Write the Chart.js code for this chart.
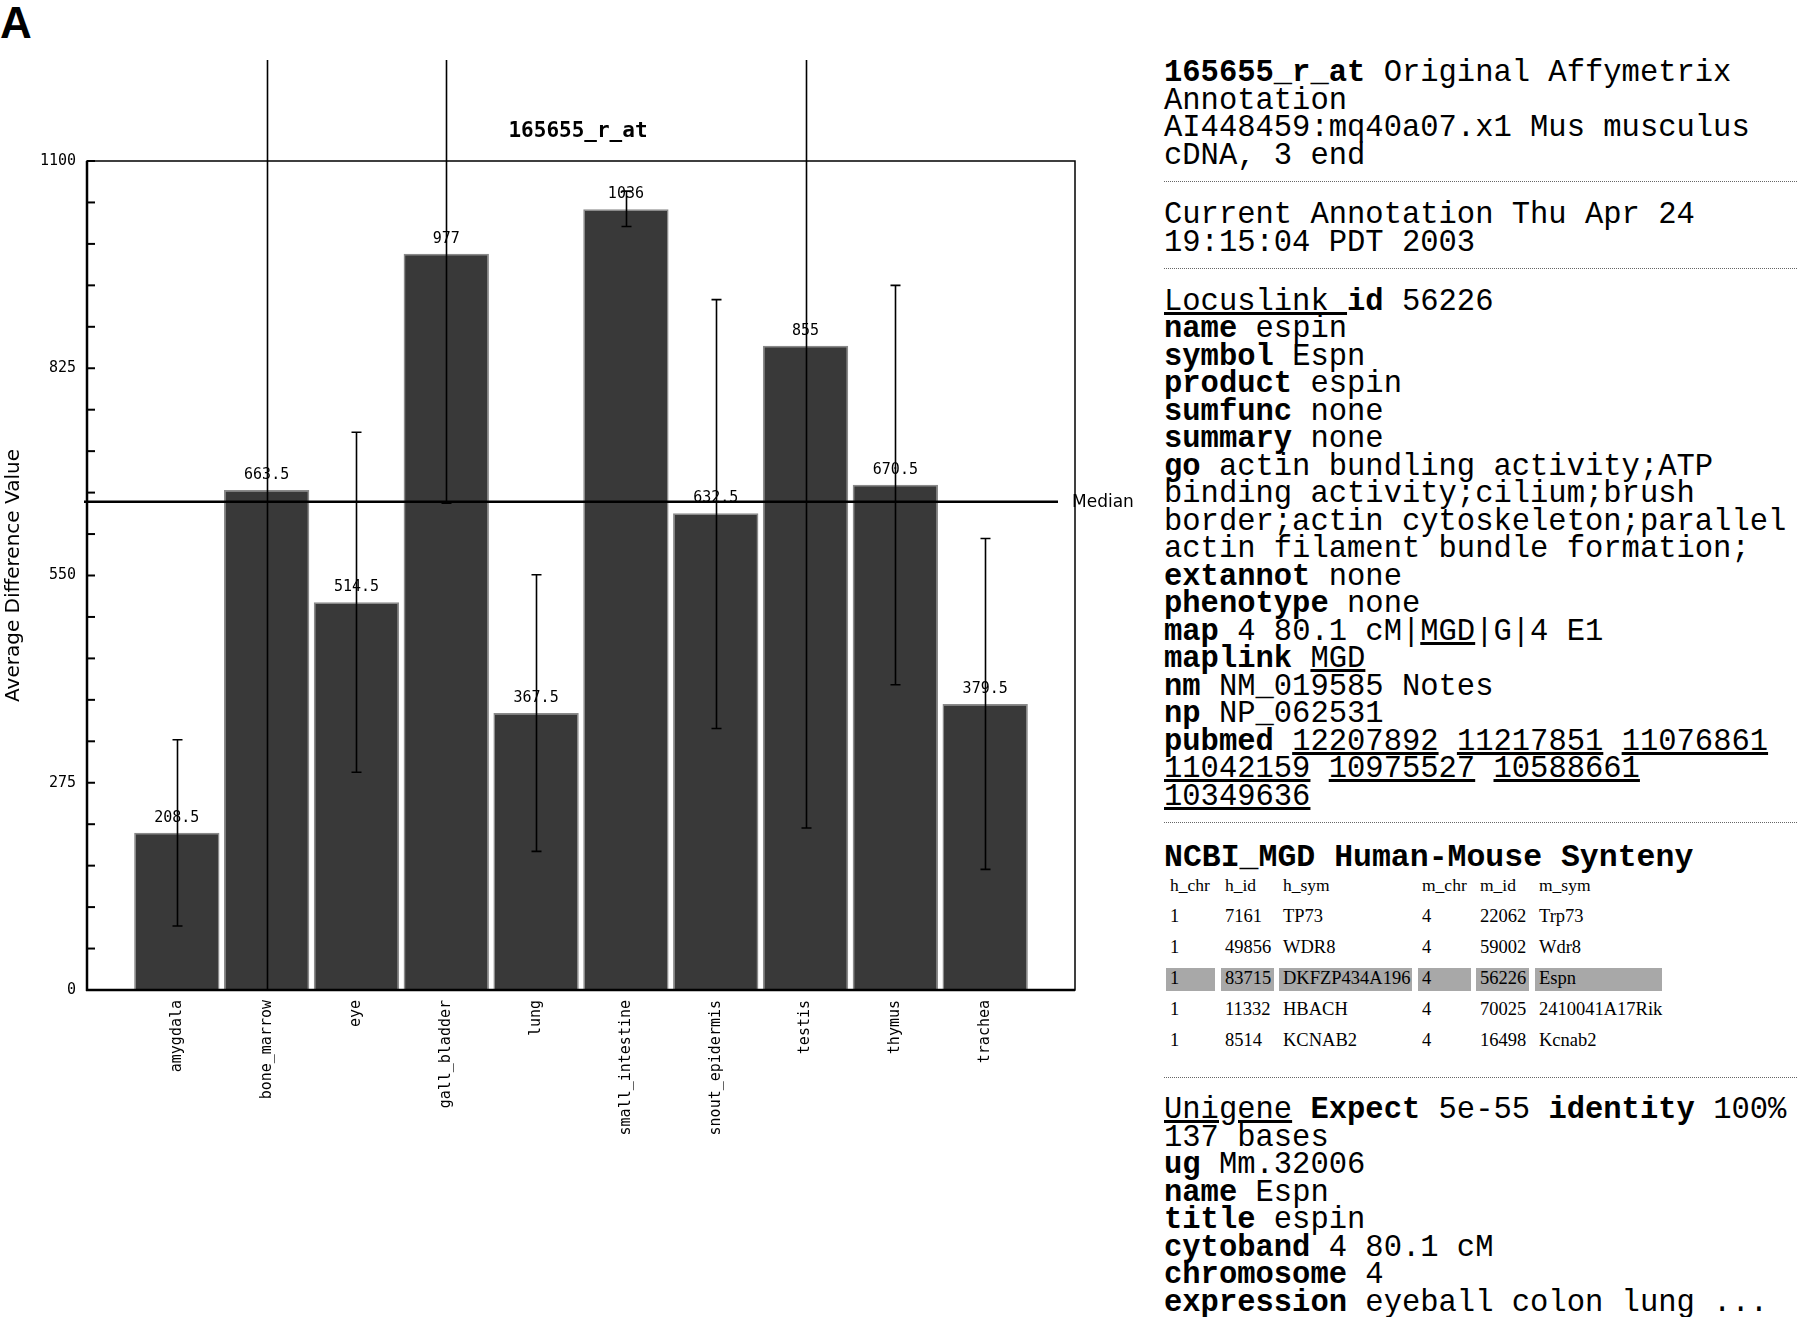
<!DOCTYPE html>
<html><head><meta charset="utf-8">
<script src="https://cdn.jsdelivr.net/npm/chart.js@4.4.0/dist/chart.umd.min.js"></script>
<style>
html,body{margin:0;padding:0;background:#fff;width:1800px;height:1317px;overflow:hidden;position:relative}
#A{position:absolute;left:0;top:1px;font:bold 44px/1 "Liberation Sans",Arial,sans-serif;color:#000}
#wrap{position:absolute;left:0;top:60px;width:1150px;height:1080px}
.txt{position:absolute;left:1164px;font-family:"Liberation Mono",monospace;font-size:30.5px;line-height:27.5px;color:#000;white-space:pre;margin:0}
.dot{position:absolute;left:1164px;width:633px;height:0;border-top:1px dotted #666}
.cell{position:absolute;height:23px;line-height:23px;padding-left:4px;box-sizing:border-box;font:18.5px "Liberation Serif","Times New Roman",serif;color:#000;white-space:nowrap}
.hl{background:#a8a8a8}
</style></head>
<body>
<div id="A">A</div>
<div id="wrap"><canvas id="c" width="1150" height="1080"></canvas></div>

<div class="txt" style="top:60px"><b>165655_r_at</b> Original Affymetrix
Annotation
AI448459:mq40a07.x1 Mus musculus
cDNA, 3 end</div>
<div class="dot" style="top:181px"></div>
<div class="txt" style="top:202px">Current Annotation Thu Apr 24
19:15:04 PDT 2003</div>
<div class="dot" style="top:268px"></div>
<div class="txt" style="top:288.5px"><u>Locuslink </u><b>id</b> 56226
<b>name</b> espin
<b>symbol</b> Espn
<b>product</b> espin
<b>sumfunc</b> none
<b>summary</b> none
<b>go</b> actin bundling activity;ATP
binding activity;cilium;brush
border;actin cytoskeleton;parallel
actin filament bundle formation;
<b>extannot</b> none
<b>phenotype</b> none
<b>map</b> 4 80.1 cM|<u>MGD</u>|G|4 E1
<b>maplink</b> <u>MGD</u>
<b>nm</b> NM_019585 Notes
<b>np</b> NP_062531
<b>pubmed</b> <u>12207892</u> <u>11217851</u> <u>11076861</u>
<u>11042159</u> <u>10975527</u> <u>10588661</u>
<u>10349636</u></div>
<div class="dot" style="top:822px"></div>
<div class="txt" style="top:844px;font-size:31.5px"><b>NCBI_MGD Human-Mouse Synteny</b></div>
<div id="tbl"></div>
<div class="dot" style="top:1077px"></div>
<div class="txt" style="top:1097px"><u>Unigene</u> <b>Expect</b> 5e-55 <b>identity</b> 100%
137 bases
<b>ug</b> Mm.32006
<b>name</b> Espn
<b>title</b> espin
<b>cytoband</b> 4 80.1 cM
<b>chromosome</b> 4
<b>expression</b> eyeball colon lung ...</div>

<script>
// ---- chart data ----
const categories = ['amygdala','bone_marrow','eye','gall_bladder','lung','small_intestine','snout_epidermis','testis','thymus','trachea'];
const values = [208.5, 663.5, 514.5, 977, 367.5, 1036, 632.5, 855, 670.5, 379.5];
const errLow = [85, 0, 289, 646, 184, 1013, 347, 215, 405, 160];
const errHigh = [332, 1330, 740, 1308, 551, 1060, 916, 1495, 935, 599];
const yTickLabels = [0, 275, 550, 825, 1100];
const medianValue = 648;
const chartTitle = '165655_r_at';
const yTitle = 'Average Difference Value';

// ---- synteny table text ----
const tableRows = [
  ['h_chr','h_id','h_sym','m_chr','m_id','m_sym'],
  ['1','7161','TP73','4','22062','Trp73'],
  ['1','49856','WDR8','4','59002','Wdr8'],
  ['1','83715','DKFZP434A196','4','56226','Espn'],
  ['1','11332','HBACH','4','70025','2410041A17Rik'],
  ['1','8514','KCNAB2','4','16498','Kcnab2']
];
const highlightRow = 3;
const colLeft = [1166, 1221, 1279, 1418, 1476, 1535];
const colWidth = [49, 53, 133, 53, 53, 127];
const rowCenter = [886, 917, 948, 979.5, 1010, 1041];
const tbl = document.getElementById('tbl');
tableRows.forEach((row, r) => {
  row.forEach((t, c) => {
    const d = document.createElement('div');
    d.className = 'cell' + (r === highlightRow ? ' hl' : '');
    d.style.left = colLeft[c] + 'px';
    d.style.width = colWidth[c] + 'px';
    d.style.top = (rowCenter[r] - 11.5) + 'px';
    if (r === 0) d.style.fontSize = '17.5px';
    d.textContent = t;
    tbl.appendChild(d);
  });
});

const overlay = {
  id: 'overlay',
  afterDatasetsDraw(chart) {
    const {ctx, chartArea: a, scales: {y}} = chart;
    const meta = chart.getDatasetMeta(0);
    ctx.save();
    // chart title
    ctx.font = 'bold 21px "DejaVu Sans Mono", monospace';
    ctx.fillStyle = '#000';
    ctx.textAlign = 'center';
    ctx.textBaseline = 'middle';
    ctx.fillText(chartTitle, (a.left + a.right) / 2 - 3, a.top - 29);
    // value labels
    ctx.font = '15px "DejaVu Sans Mono", monospace';
    meta.data.forEach((bar, i) => ctx.fillText(String(values[i]), bar.x, bar.y - 15));
    // median line
    const my = y.getPixelForValue(medianValue);
    ctx.strokeStyle = '#000';
    ctx.lineWidth = 2.5;
    ctx.beginPath(); ctx.moveTo(a.left - 3, my); ctx.lineTo(a.right - 17, my); ctx.stroke();
    ctx.font = '17px "DejaVu Sans", sans-serif';
    ctx.textAlign = 'left';
    ctx.fillText('Median', a.right - 3, my + 1);
    // error bars
    ctx.lineWidth = 1.6;
    meta.data.forEach((bar, i) => {
      const x0 = Math.round(bar.x) + 0.5;
      const yl = y.getPixelForValue(errLow[i]);
      const yh = y.getPixelForValue(errHigh[i]);
      ctx.beginPath();
      ctx.moveTo(x0, yl); ctx.lineTo(x0, yh);
      ctx.moveTo(x0 - 5, yl); ctx.lineTo(x0 + 5, yl);
      ctx.moveTo(x0 - 5, yh); ctx.lineTo(x0 + 5, yh);
      ctx.stroke();
    });
    // frame
    ctx.lineWidth = 1.5;
    ctx.strokeRect(a.left, a.top, a.right - a.left, a.bottom - a.top);
    ctx.lineWidth = 2.5;
    ctx.beginPath();
    ctx.moveTo(a.left, a.top); ctx.lineTo(a.left, a.bottom + 1);
    ctx.moveTo(a.left - 1, a.bottom); ctx.lineTo(a.right, a.bottom);
    ctx.stroke();
    // inward tick marks
    ctx.lineWidth = 2;
    y.ticks.forEach(t => {
      const py = y.getPixelForValue(t.value);
      ctx.beginPath(); ctx.moveTo(a.left, py); ctx.lineTo(a.left + 8, py); ctx.stroke();
    });
    ctx.restore();
  }
};

new Chart(document.getElementById('c'), {
  type: 'bar',
  data: {
    datasets: [{
      data: values.map((v, i) => ({x: i + 1, y: v})),
      backgroundColor: '#393939',
      borderColor: '#8a8a8a',
      borderWidth: 1.5,
      barPercentage: 0.95,
      categoryPercentage: 1
    }]
  },
  options: {
    responsive: false,
    devicePixelRatio: 1,
    animation: false,
    layout: {padding: {left: 0, right: 75, top: 101, bottom: 0}},
    plugins: {
      legend: {display: false},
      tooltip: {enabled: false},
      title: {display: false}
    },
    scales: {
      x: {
        type: 'linear', min: 0, max: categories.length + 1, offset: false,
        grid: {display: false, drawTicks: false},
        border: {display: false},
        ticks: {
          stepSize: 1, autoSkip: false, minRotation: 90, maxRotation: 90, padding: 10,
          color: '#000', font: {family: '"DejaVu Sans Mono", monospace', size: 15},
          callback: v => categories[v - 1] || ''
        },
        afterFit: s => { s.height = 150; }
      },
      y: {
        type: 'linear', min: 0, max: 1100,
        grid: {display: false, drawTicks: false},
        border: {display: false},
        ticks: {
          stepSize: 55, autoSkip: false, maxTicksLimit: 100, padding: 11,
          color: '#000', font: {family: '"DejaVu Sans Mono", monospace', size: 15},
          callback: v => yTickLabels.includes(v) ? String(v) : ''
        },
        title: {
          display: true, text: yTitle, color: '#000',
          font: {family: '"DejaVu Sans", sans-serif', size: 20},
          padding: {top: 2, bottom: 0}
        },
        afterFit: s => { s.width = 87; }
      }
    }
  },
  plugins: [overlay]
});
</script>
</body></html>
